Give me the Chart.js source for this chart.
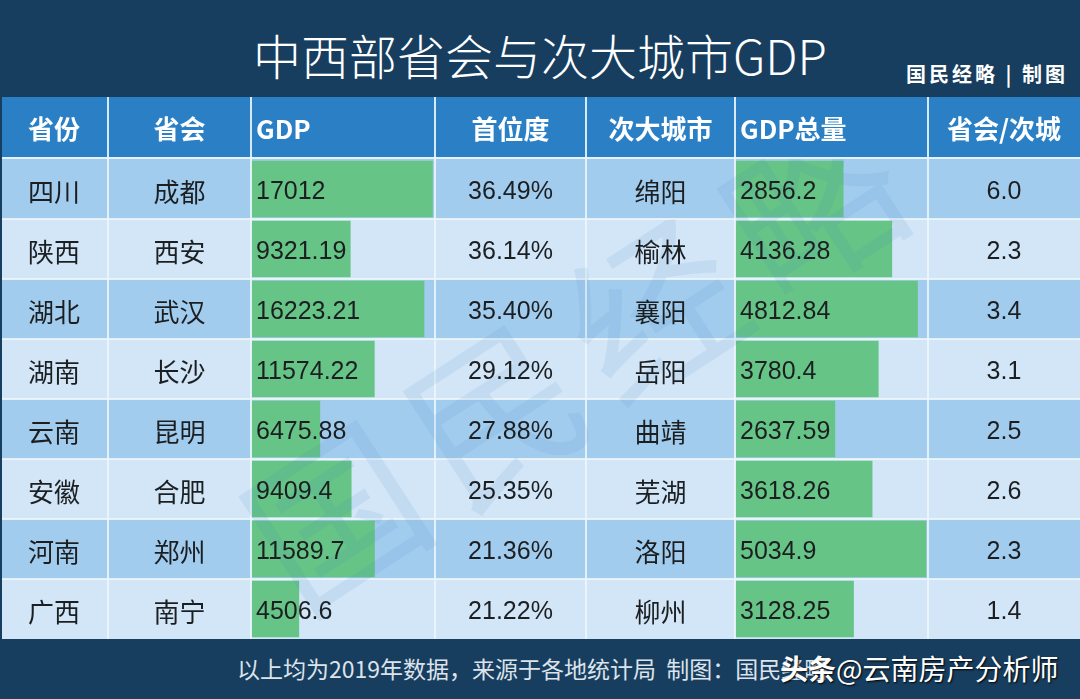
<!DOCTYPE html>
<html>
<head>
<meta charset="utf-8">
<script src="https://cdn.jsdelivr.net/npm/chart.js@4.4.1/dist/chart.umd.min.js"></script>
<style>
  body { margin: 0; background: #173e5f; }
  #wrap { position: relative; width: 1080px; height: 699px; overflow: hidden; background: #173e5f; font-family: "Noto Sans CJK SC", sans-serif; }
  #title { position: absolute; left: 0; width: 1080px; top: 24px; text-align: center; color: #fff; font-size: 48px; font-weight: 300; line-height: 60px; }
  #brand { position: absolute; left: 906px; top: 60px; color: #fff; font-size: 20px; font-weight: bold; letter-spacing: 3px; line-height: 28px; }
  #board { position: absolute; left: 0; top: 97px; }
  #edge { position: absolute; left: 0; top: 97px; width: 2px; height: 542px; background: #173e5f; }
  #foot { position: absolute; left: 237px; top: 652px; color: #dde3ea; font-size: 23px; line-height: 32px; white-space: pre; }
  #mark { position: absolute; left: 780px; top: 648px; color: #fff; font-size: 28px; line-height: 40px; text-shadow: 1px 1px 2px #000; }
</style>
</head>
<body>
<div id="wrap">
  <div id="title">中西部省会与次大城市GDP</div>
  <div id="brand">国民经略 | 制图</div>
  <canvas id="board" width="1080" height="542"></canvas>
  <div id="edge"></div>
  <div id="foot">以上均为2019年数据，来源于各地统计局  制图：国民经略</div>
  <div id="mark"><b>头条</b>@云南房产分析师</div>
</div>
<script>
const headers = ['省份', '省会', 'GDP', '首位度', '次大城市', 'GDP总量', '省会/次城'];
const provinces = ['四川', '陕西', '湖北', '湖南', '云南', '安徽', '河南', '广西'];
const capitals = ['成都', '西安', '武汉', '长沙', '昆明', '合肥', '郑州', '南宁'];
const capitalGdp = [17012, 9321.19, 16223.21, 11574.22, 6475.88, 9409.4, 11589.7, 4506.6];
const primacy = [36.49, 36.14, 35.40, 29.12, 27.88, 25.35, 21.36, 21.22];
const secondCities = ['绵阳', '榆林', '襄阳', '岳阳', '曲靖', '芜湖', '洛阳', '柳州'];
const secondGdp = [2856.2, 4136.28, 4812.84, 3780.4, 2637.59, 3618.26, 5034.9, 3128.25];
const ratio = [6.0, 2.3, 3.4, 3.1, 2.5, 2.6, 2.3, 1.4];

// one stacked x scale per table column, widths in px used as stack weights
const colIds = ['xProv', 'xCap', 'xGdp', 'xShare', 'xCity', 'xCityGdp', 'xRatio'];
const colWidths = [108, 143, 184, 151, 149, 193, 152];
const colMax = [1, 1, 17220, 1, 1, 5080, 1];

const scales = { y: { type: 'category', display: false } };
colIds.forEach((id, i) => {
  scales[id] = {
    type: 'linear', display: false, position: 'bottom',
    stack: 'cols', stackWeight: colWidths[i], weight: i,
    min: 0, max: colMax[i]
  };
});

const HEAD_H = 62;
const numFont = '25px "Liberation Sans", "Noto Sans CJK SC", sans-serif';
const cjkFont = '26px "Noto Sans CJK SC", sans-serif';
const headFont = 'bold 26px "Noto Sans CJK SC", sans-serif';

function cellText(col, i) {
  switch (col) {
    case 0: return provinces[i];
    case 1: return capitals[i];
    case 2: return String(capitalGdp[i]);
    case 3: return primacy[i].toFixed(2) + '%';
    case 4: return secondCities[i];
    case 5: return String(secondGdp[i]);
    case 6: return ratio[i].toFixed(1);
  }
}

const tablePlugin = {
  id: 'tableGrid',
  beforeDatasetsDraw(chart) {
    const ctx = chart.ctx;
    const y = chart.scales.y;
    const area = chart.chartArea;
    const band = y.getPixelForValue(1) - y.getPixelForValue(0);
    ctx.save();
    // header row
    ctx.fillStyle = '#2b80c5';
    ctx.fillRect(area.left, 0, area.right - area.left, HEAD_H - 2);
    ctx.fillStyle = '#e6f2fb';
    ctx.fillRect(area.left, HEAD_H - 2, area.right - area.left, 2);
    // body rows
    provinces.forEach((p, i) => {
      const top = y.getPixelForValue(i) - band / 2;
      ctx.fillStyle = i % 2 === 0 ? '#a2ccee' : '#d2e6f7';
      ctx.fillRect(area.left, top, area.right - area.left, band);
    });
    ctx.restore();
  },
  afterDatasetsDraw(chart) {
    const ctx = chart.ctx;
    const y = chart.scales.y;
    const area = chart.chartArea;
    const band = y.getPixelForValue(1) - y.getPixelForValue(0);
    ctx.save();
    // grid lines
    ctx.fillStyle = 'rgba(235,245,252,0.9)';
    colIds.forEach((id, c) => {
      if (c === 0) return;
      const x = chart.scales[id].left;
      ctx.fillRect(x - 1, 0, 2, area.bottom);
    });
    for (let i = 1; i < provinces.length; i++) {
      const b = y.getPixelForValue(i) - band / 2;
      ctx.fillRect(area.left, b - 1, area.right - area.left, 2);
    }
    // faint watermark
    ctx.save();
    ctx.beginPath();
    ctx.rect(area.left, area.top, area.right - area.left, area.bottom - area.top);
    ctx.clip();
    ctx.translate(575, 265);
    ctx.rotate(-33 * Math.PI / 180);
    ctx.font = '170px "Noto Sans CJK SC", sans-serif';
    ctx.fillStyle = 'rgba(60,125,190,0.10)';
    ctx.textAlign = 'center';
    ctx.textBaseline = 'middle';
    ['国', '民', '经', '略'].forEach((ch, k) => ctx.fillText(ch, (k - 1.5) * 190, 0));
    ctx.restore();

    // header texts
    ctx.textBaseline = 'middle';
    ctx.fillStyle = '#ffffff';
    ctx.font = headFont;
    headers.forEach((h, c) => {
      const s = chart.scales[colIds[c]];
      const left = (c === 2 || c === 5);
      ctx.textAlign = left ? 'left' : 'center';
      ctx.fillText(h, left ? s.left + 5 : (s.left + s.right) / 2, (HEAD_H - 2) / 2 + 2);
    });
    // body texts
    ctx.fillStyle = '#1c1f22';
    provinces.forEach((p, i) => {
      const cy = y.getPixelForValue(i) + 3;
      colIds.forEach((id, c) => {
        const s = chart.scales[id];
        const left = (c === 2 || c === 5);
        const cjk = (c === 0 || c === 1 || c === 4);
        ctx.font = cjk ? cjkFont : numFont;
        ctx.textAlign = left ? 'left' : 'center';
        ctx.fillText(cellText(c, i), left ? s.left + 5 : (s.left + s.right) / 2, cy);
      });
    });
    ctx.restore();
  }
};

new Chart(document.getElementById('board'), {
  type: 'bar',
  data: {
    labels: provinces,
    datasets: [
      {
        label: 'GDP', data: capitalGdp, xAxisID: 'xGdp', yAxisID: 'y',
        backgroundColor: '#66c586', grouped: false,
        barPercentage: 0.94, categoryPercentage: 1
      },
      {
        label: 'GDP总量', data: secondGdp, xAxisID: 'xCityGdp', yAxisID: 'y',
        backgroundColor: '#66c586', grouped: false,
        barPercentage: 0.94, categoryPercentage: 1
      }
    ]
  },
  options: {
    indexAxis: 'y',
    responsive: false,
    animation: false,
    layout: { padding: { top: HEAD_H, left: 0, right: 0, bottom: 0 } },
    scales: scales,
    plugins: {
      legend: { display: false },
      tooltip: { enabled: false },
      title: { display: false }
    }
  },
  plugins: [tablePlugin]
});
</script>
</body>
</html>
